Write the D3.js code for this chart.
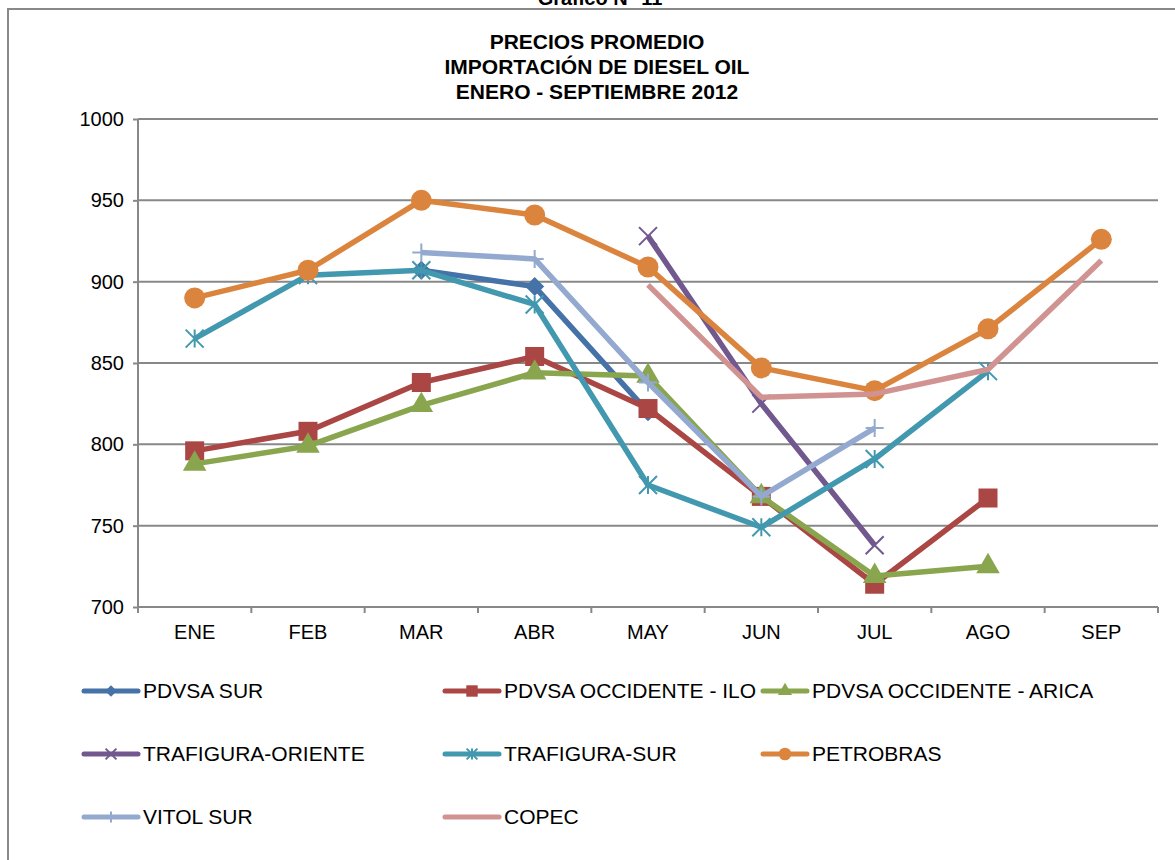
<!DOCTYPE html>
<html>
<head>
<meta charset="utf-8">
<script src="https://cdnjs.cloudflare.com/ajax/libs/d3/7.8.5/d3.min.js"></script>
<style>
  body { margin: 0; background: #fff; }
  svg { font-family: "Liberation Sans", Arial, sans-serif; }
</style>
</head>
<body>
<svg id="chart" width="1175" height="860"></svg>
<script>
// months on the x axis
const months = ["ENE", "FEB", "MAR", "ABR", "MAY", "JUN", "JUL", "AGO", "SEP"];
const yTicks = [700, 750, 800, 850, 900, 950, 1000];

// series values (null = no import that month)
const pdvsaSur       = [null, null, 907, 897, 820, null, null, null, null];
const pdvsaIlo       = [796, 808, 838, 854, 822, 768, 714, 767, null];
const pdvsaArica     = [788, 799, 824, 844, 842, 768, 719, 725, null];
const trafOriente    = [null, null, null, null, 928, 825, 738, null, null];
const trafSur        = [865, 904, 907, 886, 775, 749, 791, 845, null];
const petrobras      = [890, 907, 950, 941, 909, 847, 833, 871, 926];
const vitolSur       = [null, null, 918, 914, 838, 768, 810, null, null];
const copec          = [null, null, null, null, 898, 829, 831, 846, 913];

const seriesNames  = ["PDVSA SUR", "PDVSA OCCIDENTE - ILO", "PDVSA OCCIDENTE - ARICA",
                      "TRAFIGURA-ORIENTE", "TRAFIGURA-SUR", "PETROBRAS", "VITOL SUR", "COPEC"];
const seriesValues = [pdvsaSur, pdvsaIlo, pdvsaArica, trafOriente, trafSur, petrobras, vitolSur, copec];
const seriesColors = ["#4572A7", "#AA4643", "#89A54E", "#71588F", "#4198AF", "#DB843D", "#93A9CF", "#D19392"];
const seriesMarkers = ["diamond", "square", "triangle", "x", "star", "circle", "plus", "none"];

const svg = d3.select("#chart");

// outer frame and heading above it
svg.append("rect")
  .attr("x", 8).attr("y", 9)
  .attr("width", 1200).attr("height", 900)
  .attr("fill", "none").attr("stroke", "#898989").attr("stroke-width", 2);

svg.append("text")
  .attr("x", 600).attr("y", 5)
  .attr("text-anchor", "middle")
  .style("font-weight", "bold").style("font-size", "20px")
  .text("Gráfico N° 11");

const titleLines = ["PRECIOS PROMEDIO", "IMPORTACIÓN DE DIESEL OIL", "ENERO - SEPTIEMBRE 2012"];
svg.selectAll("text.title")
  .data(titleLines)
  .enter().append("text")
    .attr("class", "title")
    .attr("x", 597)
    .attr("y", (d, i) => 49 + i * 25)
    .attr("text-anchor", "middle")
    .style("font-weight", "bold")
    .style("font-size", "21px")
    .text(d => d);

const plotLeft = 138, plotRight = 1158, plotTop = 119, plotBottom = 607;

const x = d3.scaleBand().domain(months).range([plotLeft, plotRight]);
const y = d3.scaleLinear().domain([700, 1000]).range([plotBottom, plotTop]);

// gridlines
svg.append("g")
  .selectAll("line")
  .data(yTicks)
  .enter().append("line")
    .attr("x1", plotLeft).attr("x2", plotRight)
    .attr("y1", d => y(d)).attr("y2", d => y(d))
    .attr("stroke", "#888").attr("stroke-width", 2);

// y axis
const yAxis = svg.append("g")
  .attr("transform", "translate(" + plotLeft + ",0)")
  .call(d3.axisLeft(y).tickValues(yTicks).tickFormat(d3.format("d")).tickSize(5).tickPadding(9));
yAxis.selectAll("path, line").attr("stroke", "#888").attr("stroke-width", 2);
yAxis.selectAll("text").style("font-size", "20px").attr("fill", "#000");
yAxis.select(".domain").attr("d", "M0," + plotTop + "V" + plotBottom);

// x axis with ticks between categories
const xAxis = svg.append("g")
  .attr("transform", "translate(0," + plotBottom + ")");
xAxis.append("line")
  .attr("x1", plotLeft).attr("x2", plotRight)
  .attr("stroke", "#888").attr("stroke-width", 2);
xAxis.selectAll("line.tick")
  .data(months.concat(["end"]))
  .enter().append("line")
    .attr("class", "tick")
    .attr("x1", (d, i) => i < months.length ? x(d) : plotRight)
    .attr("x2", (d, i) => i < months.length ? x(d) : plotRight)
    .attr("y1", 0).attr("y2", 6)
    .attr("stroke", "#888").attr("stroke-width", 2);
xAxis.selectAll("text")
  .data(months)
  .enter().append("text")
    .attr("x", d => x(d) + x.bandwidth() / 2)
    .attr("y", 32)
    .attr("text-anchor", "middle")
    .style("font-size", "20px")
    .text(d => d);

function drawMarker(g, type, color, scale) {
  const s = scale || 1;
  if (type === "circle") {
    g.append("circle").attr("r", 10.5 * s).attr("fill", color);
  } else if (type === "square") {
    g.append("rect").attr("x", -9.5 * s).attr("y", -9.5 * s)
      .attr("width", 19 * s).attr("height", 19 * s).attr("fill", color);
  } else if (type === "triangle") {
    g.append("path").attr("d", d3.symbol(d3.symbolTriangle, 240 * s * s)()).attr("fill", color);
  } else if (type === "diamond") {
    const r = 9.5 * s;
    g.append("path").attr("d", "M0," + (-r) + "L" + r + ",0L0," + r + "L" + (-r) + ",0Z").attr("fill", color);
  } else if (type === "x") {
    const r = 9 * s;
    g.append("path").attr("d", "M" + (-r) + "," + (-r) + "L" + r + "," + r + "M" + r + "," + (-r) + "L" + (-r) + "," + r)
      .attr("stroke", color).attr("stroke-width", 2);
  } else if (type === "star") {
    const r = 9 * s;
    g.append("path").attr("d", "M" + (-r) + "," + (-r) + "L" + r + "," + r + "M" + r + "," + (-r) + "L" + (-r) + "," + r + "M0," + (-r) + "V" + r)
      .attr("stroke", color).attr("stroke-width", 2);
  } else if (type === "plus") {
    const r = 9 * s;
    g.append("path").attr("d", "M" + (-r) + ",0H" + r + "M0," + (-r) + "V" + r)
      .attr("stroke", color).attr("stroke-width", 2);
  }
}

const line = d3.line()
  .defined(d => d.v !== null)
  .x(d => x(d.m) + x.bandwidth() / 2)
  .y(d => y(d.v));

seriesValues.forEach((vals, si) => {
  const pts = vals.map((v, i) => ({ m: months[i], v: v }));
  const g = svg.append("g");
  g.append("path")
    .datum(pts)
    .attr("d", line)
    .attr("fill", "none")
    .attr("stroke", seriesColors[si])
    .attr("stroke-width", 5.5)
    .attr("stroke-linejoin", "round");
  pts.filter(d => d.v !== null).forEach(d => {
    const mg = g.append("g")
      .attr("transform", "translate(" + (x(d.m) + x.bandwidth() / 2) + "," + y(d.v) + ")");
    drawMarker(mg, seriesMarkers[si], seriesColors[si]);
  });
});

// legend: 3 columns
const legendCols = [84, 445, 763];
const legendLineLen = [54, 54, 44];
const legendRows = [691, 754, 817];
seriesNames.forEach((name, i) => {
  const col = i % 3;
  const lx = legendCols[col], ly = legendRows[Math.floor(i / 3)];
  const len = legendLineLen[col];
  const g = svg.append("g").attr("transform", "translate(" + lx + "," + ly + ")");
  g.append("line").attr("x1", 0).attr("x2", len)
    .attr("stroke", seriesColors[i]).attr("stroke-width", 5).attr("stroke-linecap", "round");
  const mg = g.append("g").attr("transform", "translate(" + (len / 2) + ",0)");
  drawMarker(mg, seriesMarkers[i], seriesColors[i], 0.6);
  g.append("text").attr("x", len + 5).attr("y", 7)
    .style("font-size", "21px")
    .text(name);
});
</script>
</body>
</html>
